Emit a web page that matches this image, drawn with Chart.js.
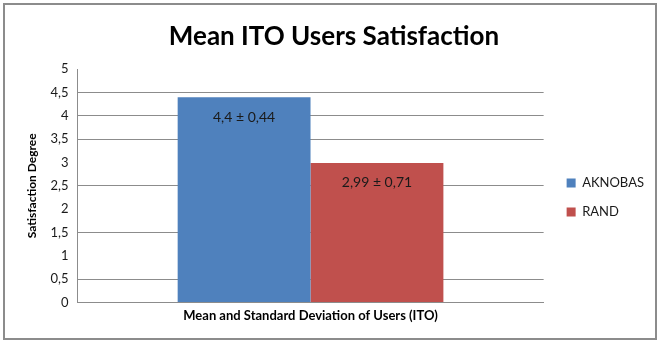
<!DOCTYPE html>
<html><head><meta charset="utf-8">
<script src="https://cdn.jsdelivr.net/npm/chart.js@4/dist/chart.umd.min.js"></script>
<style>html,body{margin:0;padding:0;background:#fff}#wrap{width:661px;height:346px;position:relative}</style>
</head><body><div id="wrap"><canvas id="c" width="661" height="346"></canvas></div>
<script>
const categories = [''];
const seriesNames = ['AKNOBAS', 'RAND'];
const meanValues = [4.4, 2.99];
const stdValues = [0.44, 0.71];
const seriesColors = ['#4f81bd', '#c0504d'];
const yTicks = [0, 0.5, 1, 1.5, 2, 2.5, 3, 3.5, 4, 4.5, 5];
const visibleGrid = [0.5, 1.5, 2.5, 3.5, 4, 4.5];

const fmt = v => String(v).replace('.', ',');
const FONT = 'Lato, "Open Sans", sans-serif';

const frame = {
  id: 'frame',
  beforeDraw(chart) {
    const ctx = chart.ctx;
    ctx.save();
    ctx.fillStyle = '#fff';
    ctx.fillRect(0, 0, chart.width, chart.height);
    ctx.strokeStyle = '#8c8c8c';
    ctx.lineWidth = 2;
    ctx.strokeRect(4, 4, 652, 335);
    ctx.restore();
  }
};
const legendShift = {
  id: 'legendShift',
  afterLayout(chart) {
    const lg = chart.legend;
    if (!lg) return;
    lg.top += 23; lg.bottom += 23;
    lg.left += 7; lg.right += 7;
  }
};
const valueLabels = {
  id: 'valueLabels',
  afterDatasetsDraw(chart) {
    const ctx = chart.ctx;
    ctx.save();
    ctx.font = '14px ' + FONT;
    ctx.fillStyle = '#1a1a1a';
    ctx.textAlign = 'center';
    ctx.textBaseline = 'middle';
    chart.data.datasets.forEach((ds, i) => {
      const bar = chart.getDatasetMeta(i).data[0];
      ctx.fillText(fmt(meanValues[i]) + ' \u00b1 ' + fmt(stdValues[i]), bar.x, bar.y + 20);
    });
    ctx.restore();
  }
};

new Chart(document.getElementById('c'), {
  type: 'bar',
  data: {
    labels: categories,
    datasets: seriesNames.map((n, i) => ({
      label: n,
      data: [meanValues[i]],
      backgroundColor: seriesColors[i],
      borderWidth: 0,
      categoryPercentage: 0.57,
      barPercentage: 1
    }))
  },
  options: {
    responsive: false,
    animation: false,
    layout: { padding: { left: 21, right: 14, top: 21, bottom: 18 } },
    plugins: {
      title: {
        display: true,
        text: 'Mean ITO Users Satisfaction',
        font: { family: FONT, size: 26, weight: 'bold' },
        color: '#000',
        padding: { top: 0, bottom: 17 }
      },
      legend: {
        position: 'right',
        labels: {
          boxWidth: 9, boxHeight: 9, padding: 16,
          font: { family: FONT, size: 13 },
          color: '#1a1a1a'
        }
      },
      tooltip: { enabled: false }
    },
    scales: {
      x: {
        grid: { display: false, drawTicks: false },
        border: { display: true, color: '#8c8c8c' },
        ticks: { display: false },
        title: {
          display: true,
          text: 'Mean and Standard Deviation of Users (ITO)',
          font: { family: FONT, size: 13, weight: 'bold' },
          color: '#000',
          padding: { top: 6 }
        }
      },
      y: {
        min: 0, max: 5,
        afterBuildTicks(axis) { axis.ticks = yTicks.map(v => ({ value: v })); },
        ticks: {
          callback: v => fmt(v),
          font: { family: FONT, size: 13 },
          color: '#1a1a1a',
          padding: 9
        },
        grid: {
          drawTicks: false,
          color: c => visibleGrid.includes(c.tick ? c.tick.value : -1) ? '#8c8c8c' : 'rgba(0,0,0,0)'
        },
        border: { display: true, color: '#8c8c8c' },
        title: {
          display: true,
          text: 'Satisfaction Degree',
          font: { family: FONT, size: 12, weight: 'bold' },
          color: '#000',
          padding: { bottom: 2 }
        }
      }
    }
  },
  plugins: [frame, legendShift, valueLabels]
});
</script></body></html>
